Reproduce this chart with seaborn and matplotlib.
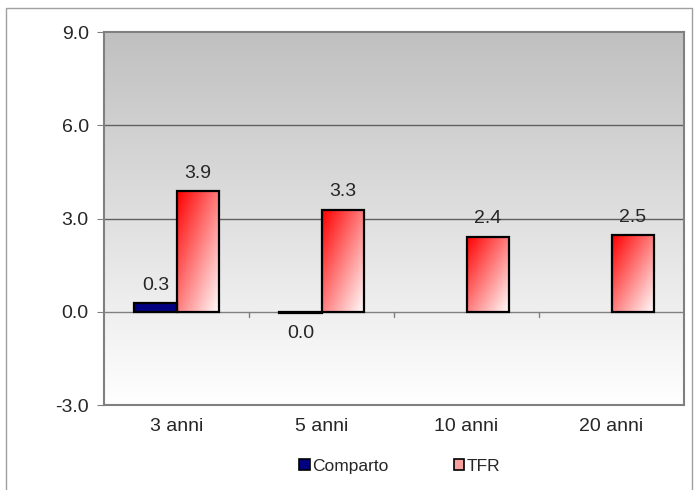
import numpy as np
import pandas as pd
import matplotlib
matplotlib.use("Agg")
import matplotlib.pyplot as plt
import seaborn as sns
from matplotlib.colors import LinearSegmentedColormap
from matplotlib.patches import Patch
from matplotlib.lines import Line2D

# data
periods = ["3 anni", "5 anni", "10 anni", "20 anni"]
comparto = [0.28, -0.04, np.nan, np.nan]
tfr = [3.88, 3.28, 2.42, 2.46]
comparto_labels = ["0.3", "0.0", "", ""]
tfr_labels = ["3.9", "3.3", "2.4", "2.5"]

df = pd.DataFrame({
    "period": periods * 2,
    "serie": ["Comparto"] * 4 + ["TFR"] * 4,
    "value": comparto + tfr,
})

sns.set_style("white")
plt.rcParams["font.family"] = ["Liberation Sans", "DejaVu Sans"]

fig = plt.figure(figsize=(6.94, 4.9), dpi=100)
ax = fig.add_axes([104 / 694, 85 / 490, 580 / 694, 373 / 490])

sns.barplot(data=df, x="period", y="value", hue="serie", order=periods,
            hue_order=["Comparto", "TFR"], palette=["#000080", "#ff8080"],
            saturation=1, width=0.58, edgecolor="black", linewidth=1.6,
            legend=False, ax=ax, zorder=3)

# background gradient: grey at top, white at bottom
bg = LinearSegmentedColormap.from_list("bg", ["#ffffff", "#c0c0c0"])
grad = np.linspace(0, 1, 256).reshape(-1, 1)
ax.imshow(grad, cmap=bg, origin="lower", aspect="auto",
          extent=(-0.5, 3.5, -3, 9), zorder=0)

# diagonal red gradient on the TFR bars
red = LinearSegmentedColormap.from_list("red", ["#ffffff", "#ff0000"])
yy, xx = np.mgrid[0:1:100j, 0:1:100j]
diag = (yy + (1 - xx)) / 2
for p in ax.containers[1]:
    if np.isnan(p.get_height()) or p.get_height() == 0:
        continue
    x0, y0 = p.get_x(), p.get_y()
    w, h = p.get_width(), p.get_height()
    im = ax.imshow(diag, cmap=red, origin="lower", aspect="auto",
                   extent=(x0, x0 + w, y0, y0 + h), zorder=2.9, vmin=0, vmax=1)
    im.set_clip_path(p)
    p.set_facecolor("none")

ax.set_xlim(-0.5, 3.5)
ax.set_ylim(-3, 9)

# grid lines and zero line
for g in [3, 6]:
    ax.axhline(g, color="#606060", lw=1, zorder=1)
ax.axhline(0, color="#808080", lw=1, zorder=1)
for b in [0.5, 1.5, 2.5]:
    ax.plot([b, b], [0, -0.17], color="#808080", lw=1, zorder=1, clip_on=False)

# value labels
offset = 0.29
for i in range(4):
    if comparto_labels[i]:
        v = comparto[i]
        if v >= 0:
            ax.text(i - offset / 2, v + 0.3, comparto_labels[i], ha="center",
                    va="bottom", fontsize=14)
        else:
            ax.text(i - offset / 2, v - 0.4, comparto_labels[i], ha="center",
                    va="top", fontsize=14)
    ax.text(i + offset / 2, tfr[i] + 0.3, tfr_labels[i], ha="center",
            va="bottom", fontsize=14)

ax.set_yticks([-3, 0, 3, 6, 9])
ax.set_yticklabels(["-3.0", "0.0", "3.0", "6.0", "9.0"], fontsize=14)
ax.set_xticks(range(4))
ax.set_xticklabels(periods, fontsize=14)
ax.tick_params(axis="y", length=5, color="#808080", left=True, pad=6)
ax.tick_params(axis="x", length=0, pad=9)
ax.set_xlabel("")
ax.set_ylabel("")
for s in ax.spines.values():
    s.set_color("#808080")
    s.set_linewidth(1.5)
    s.set_visible(True)

handles = [Patch(facecolor="#000080", edgecolor="black", lw=1.2, label="Comparto"),
           Patch(facecolor="#f7a0a0", edgecolor="black", lw=1.2, label="TFR")]
fig.legend(handles=handles, loc="center", bbox_to_anchor=(400 / 694, 1 - 466 / 490),
           ncol=2, frameon=False, fontsize=12.5, handlelength=0.6,
           handleheight=0.6, handletextpad=0.15, columnspacing=3.75)

# outer border (left, top, right)
bx = [6 / 694, 6 / 694, 692 / 694, 692 / 694]
by = [0, 482 / 490, 482 / 490, 0]
fig.lines.append(Line2D(bx, by, transform=fig.transFigure, color="#a0a0a0", lw=1))

fig.savefig("out.png", dpi=100)
